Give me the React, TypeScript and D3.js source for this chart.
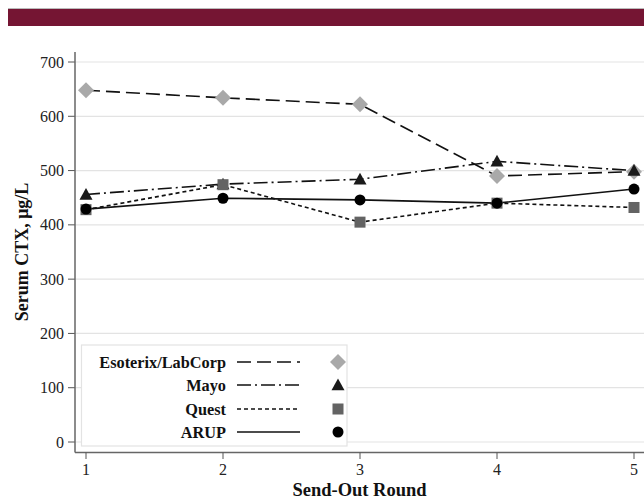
import React from "react";
import * as d3 from "d3";

const rounds = [1, 2, 3, 4, 5];
const esoterix = [648, 634, 622, 490, 498];
const mayo = [456, 475, 484, 517, 500];
const quest = [428, 474, 405, 440, 432];
const arup = [429, 449, 446, 440, 466];
const yTicks = [0, 100, 200, 300, 400, 500, 600, 700];

const series = [
  { name: "Esoterix/LabCorp", values: esoterix, dash: "14,6", marker: "diamond", color: "#a9a9a9" },
  { name: "Mayo", values: mayo, dash: "14,4,2,4", marker: "triangle", color: "#1a1a1a" },
  { name: "Quest", values: quest, dash: "4,3", marker: "square", color: "#636363" },
  { name: "ARUP", values: arup, dash: "", marker: "circle", color: "#000000" },
];

const W = 644;
const H = 499;
const x = d3.scaleLinear().domain([1, 5]).range([86, 634]);
const y = d3.scaleLinear().domain([0, 700]).range([442, 62]);

function Marker({ type, cx, cy, color }: { type: string; cx: number; cy: number; color: string }) {
  if (type === "diamond") {
    const s = 8;
    return <path d={`M${cx},${cy - s}L${cx + s},${cy}L${cx},${cy + s}L${cx - s},${cy}Z`} fill={color} />;
  }
  if (type === "triangle") {
    const s = 6.5;
    return <path d={`M${cx},${cy - s}L${cx + s},${cy + s * 0.8}L${cx - s},${cy + s * 0.8}Z`} fill={color} />;
  }
  if (type === "square") {
    return <rect x={cx - 5.5} y={cy - 5.5} width={11} height={11} fill={color} />;
  }
  return <circle cx={cx} cy={cy} r={5.5} fill={color} />;
}

export default function App() {
  const line = d3
    .line<number>()
    .x((_, i) => x(rounds[i]))
    .y((d) => y(d));
  const serif = "'Liberation Serif', 'DejaVu Serif', serif";
  const legendRows = [362, 385, 409, 432];
  return (
    <svg width={W} height={H} style={{ position: "absolute", left: 0, top: 0, background: "#fff" }} fontFamily={serif}>
      <rect x={0} y={0} width={W} height={H} fill="#fff" />
      <line x1={8} x2={W} y1={8.5} y2={8.5} stroke="#bbb" strokeWidth={1} />
      <rect x={8} y={9} width={W - 8} height={17} fill="#751533" />
      {yTicks.map((t) => (
        <g key={t}>
          <line x1={75} x2={W} y1={y(t)} y2={y(t)} stroke="#e3e3e3" strokeWidth={1.2} />
          <line x1={68} x2={75} y1={y(t)} y2={y(t)} stroke="#555" strokeWidth={1} />
          <text x={64} y={y(t)} dy="0.35em" textAnchor="end" fontSize={16} fill="#222">
            {t}
          </text>
        </g>
      ))}
      <line x1={75} x2={75} y1={52} y2={452.5} stroke="#666" strokeWidth={1.5} />
      <line x1={75} x2={W} y1={452.5} y2={452.5} stroke="#666" strokeWidth={1.5} />
      {rounds.map((r) => (
        <g key={r}>
          <line x1={x(r)} x2={x(r)} y1={452.5} y2={459} stroke="#555" strokeWidth={1} />
          <text x={x(r)} y={475} textAnchor="middle" fontSize={16} fill="#222">
            {r}
          </text>
        </g>
      ))}
      <text x={359.5} y={496} textAnchor="middle" fontSize={18.5} fontWeight="bold" fill="#111">
        Send-Out Round
      </text>
      <text
        transform="translate(28,252) rotate(-90)"
        textAnchor="middle"
        fontSize={18}
        fontWeight="bold"
        fill="#111"
      >
        Serum CTX, μg/L
      </text>
      {series.map((s) => (
        <path
          key={s.name}
          d={line(s.values) || ""}
          fill="none"
          stroke="#111"
          strokeWidth={1.6}
          strokeDasharray={s.dash || undefined}
        />
      ))}
      {series.map((s) => (
        <g key={s.name + "m"}>
          {s.values.map((v, i) => (
            <Marker key={i} type={s.marker} cx={x(rounds[i])} cy={y(v)} color={s.color} />
          ))}
        </g>
      ))}
      <rect x={81.5} y={345} width={265.5} height={101} fill="#fff" stroke="#e3e3e3" strokeWidth={1.2} />
      {series.map((s, i) => (
        <g key={s.name + "l"}>
          <text x={226} y={legendRows[i]} dy="0.35em" textAnchor="end" fontSize={16.3} fontWeight="bold" fill="#111">
            {s.name}
          </text>
          <line
            x1={237}
            x2={300}
            y1={legendRows[i]}
            y2={legendRows[i]}
            stroke="#111"
            strokeWidth={1.6}
            strokeDasharray={s.dash || undefined}
          />
          <Marker type={s.marker} cx={338} cy={legendRows[i]} color={s.color} />
        </g>
      ))}
    </svg>
  );
}
